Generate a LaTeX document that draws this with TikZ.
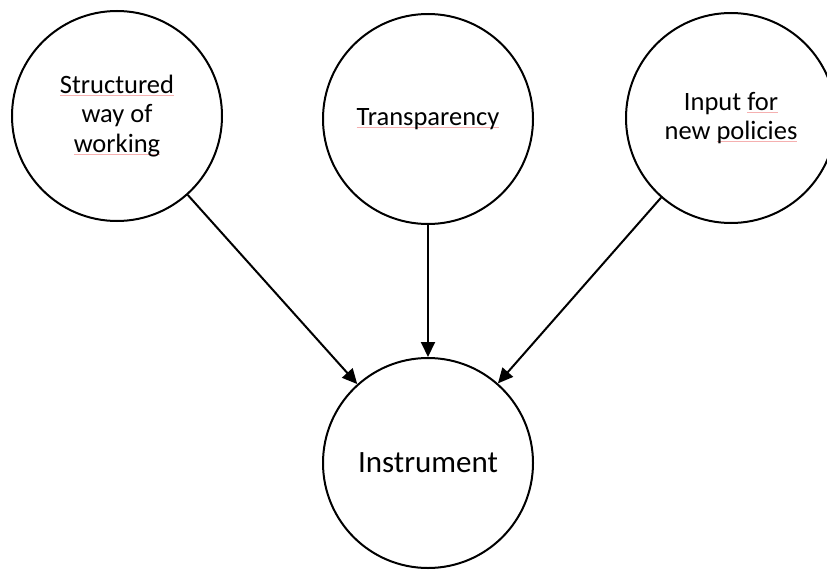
\documentclass[tikz,border=0pt]{standalone}
\usepackage{fontspec}
\setmainfont{Carlito}
\usetikzlibrary{arrows.meta}
\definecolor{errred}{HTML}{F5B0B0}
% word with a thin red spelling mark just under its baseline
\newcommand\spellmark[1]{\leavevmode\setbox0\hbox{#1}\rlap{\color{errred}\rule[-2.5pt]{\wd0}{0.8pt}}\box0}
\begin{document}
\begin{tikzpicture}[x=1pt,y=-1pt,
  bubble/.style={circle,draw,line width=2pt,minimum size=210pt,inner sep=0pt,
    align=center,font=\fontsize{26.5}{29.5}\selectfont},
  bigbubble/.style={bubble,font=\fontsize{31}{36}\selectfont},
  link/.style={line width=2pt,-{Triangle[length=15pt,width=14pt]}}]
\useasboundingbox (0,0) rectangle (827,570);
\node[bubble] (sw) at (117,116) {\spellmark{Structured}\\way of\\\spellmark{working}};
\node[bubble] (tr) at (428,119) {\spellmark{Transparency}};
\node[bubble] (ip) at (731,118) {Input \spellmark{for}\\new \spellmark{policies}};
\node[bigbubble] (in) at (428,463) {Instrument};
\draw[link] (sw) -- (in);
\draw[link] (tr) -- (in);
\draw[link] (ip) -- (in);
\end{tikzpicture}
\end{document}
